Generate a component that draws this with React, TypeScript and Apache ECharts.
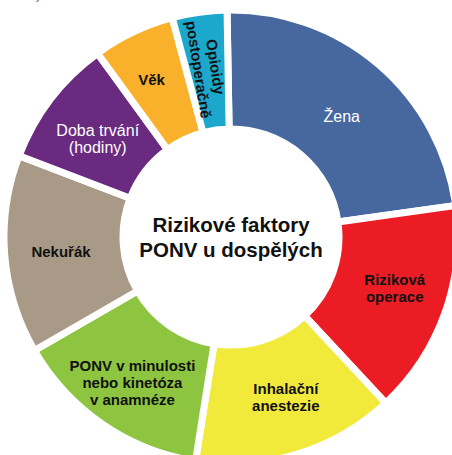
import React, { useEffect, useRef } from "react";
import * as echarts from "echarts";

const categories = [
  "Žena",
  "Riziková\noperace",
  "Inhalační\nanestezie",
  "PONV v minulosti\nnebo kinetóza\nv anamnéze",
  "Nekuřák",
  "Doba trvání\n(hodiny)",
  "Věk",
  "Opioidy\npostoperačně",
];
const values = [83, 55, 52, 51, 51, 33, 21, 14];
const centerTitle = "Rizikové faktory\nPONV u dospělých";
const topFragment = "st en)";

const FONT = "'Liberation Sans', Arial, Helvetica, sans-serif";

const sliceStyles = [
  { color: "#46689F", text: "#FFFFFF", weight: "normal", size: 16, rotate: 0, offset: [0, 9] },
  { color: "#EC1C24", text: "#111111", weight: "bold", size: 15, rotate: 0, offset: [3, -6] },
  { color: "#F2EA3A", text: "#111111", weight: "bold", size: 15, rotate: 0, offset: [5, -3] },
  { color: "#8DC540", text: "#111111", weight: "bold", size: 15, rotate: 0, offset: [-2, 5] },
  { color: "#A99A88", text: "#111111", weight: "bold", size: 15, rotate: 0, offset: [0, 1] },
  { color: "#6A2A80", text: "#FFFFFF", weight: "normal", size: 16, rotate: 0, offset: [2, 6] },
  { color: "#F9B02A", text: "#111111", weight: "bold", size: 15, rotate: 0, offset: [-6, -4] },
  { color: "#1CA8CC", text: "#111111", weight: "bold", size: 15, rotate: -81, offset: [0, 0] },
];

export default function App() {
  const ref = useRef<HTMLDivElement>(null);
  useEffect(() => {
    if (!ref.current) return;
    const chart = echarts.init(ref.current, null, { renderer: "svg" });
    chart.setOption({
      animation: false,
      backgroundColor: "#FFFFFF",
      graphic: [
        {
          type: "text",
          left: 8,
          top: -12,
          style: { text: topFragment, fill: "#555555", font: `13px ${FONT}` },
        },
      ],
      series: [
        {
          type: "pie",
          center: [231, 237],
          radius: [108, 227],
          startAngle: 91,
          clockwise: true,
          avoidLabelOverlap: false,
          itemStyle: { borderColor: "#FFFFFF", borderWidth: 7 },
          label: {
            show: true,
            position: "inside",
            fontFamily: FONT,
            fontSize: 15,
            lineHeight: 17,
            align: "center",
          },
          labelLine: { show: false },
          emphasis: { disabled: true },
          data: categories.map((name, i) => {
            const s = sliceStyles[i];
            return {
              name,
              value: values[i],
              itemStyle: { color: s.color },
              label: {
                color: s.text,
                fontWeight: s.weight,
                fontSize: s.size,
                rotate: s.rotate,
                offset: s.offset,
                formatter: "{b}",
              },
            };
          }),
        },
        {
          type: "pie",
          center: [231, 237],
          radius: [0, 1],
          silent: true,
          label: {
            show: true,
            position: "center",
            formatter: centerTitle,
            fontFamily: FONT,
            fontWeight: "bold",
            fontSize: 20.5,
            lineHeight: 25,
            color: "#111111",
          },
          itemStyle: { color: "transparent" },
          data: [{ value: 1, name: "title" }],
        },
      ],
    });
    return () => chart.dispose();
  }, []);
  return (
    <div
      ref={ref}
      style={{ position: "fixed", left: 0, top: 0, width: 452, height: 455 }}
    />
  );
}
